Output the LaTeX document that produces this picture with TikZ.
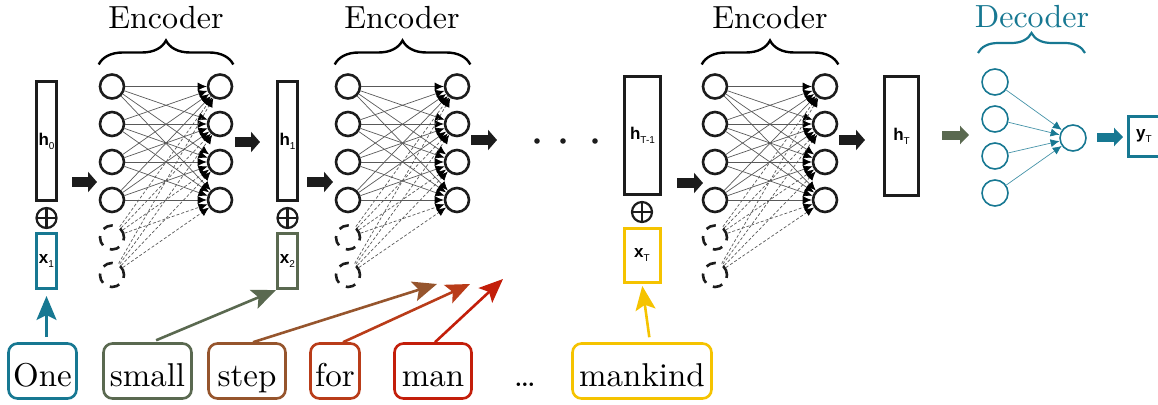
\documentclass[tikz,border=0pt]{standalone}
\usepackage{fontspec}
\newfontfamily\labf{Liberation Sans}
\newfontfamily\wordf{lmroman10-regular.otf}
\usetikzlibrary{arrows.meta,decorations.pathreplacing,calc}
\definecolor{cteal}{HTML}{177892}
\definecolor{cgreen}{HTML}{5A6950}
\definecolor{cbrown}{HTML}{96552D}
\definecolor{crust}{HTML}{B93C19}
\definecolor{cred}{HTML}{C31E0A}
\definecolor{cyell}{HTML}{F5C300}
\definecolor{cblk}{HTML}{1C1C1C}
\newcommand{\boxlab}[2]{{\labf\bfseries\fontsize{17}{17}\selectfont #1}\raisebox{-4pt}{\labf\fontsize{10}{10}\selectfont #2}}
\begin{document}
\begin{tikzpicture}[x=1pt,y=-1pt,
  neu/.style={circle,draw=cblk,line width=2.6pt,minimum size=24pt,inner sep=0pt},
  dneu/.style={neu,dash pattern=on 10pt off 8pt},
  edge/.style={draw=black!65,line width=0.7pt,-{Latex[length=9pt,width=8pt,black]}},
  dedge/.style={edge,dash pattern=on 3pt off 2pt},
  hbox/.style={draw=cblk,line width=3pt,inner sep=0pt,minimum width=20pt,minimum height=119pt},
  xbox/.style={draw,line width=3pt,inner sep=0pt,minimum width=20pt,minimum height=55pt},
  oplus/.style={circle,draw=cblk,line width=2.2pt,minimum size=20pt,inner sep=0pt,
    path picture={\draw[line width=2.2pt] (path picture bounding box.north) -- (path picture bounding box.south)
      (path picture bounding box.west) -- (path picture bounding box.east);}},
  blk/.style={draw=cblk,line width=10pt,-{Triangle[length=9pt,width=20pt,cblk]}},
  wbox/.style={draw,rounded corners=9pt,line width=2.6pt,minimum height=55pt,inner sep=0pt,
    text height=32pt,text depth=2pt,font=\wordf\fontsize{33}{36}\selectfont},
  wtext/.style={inner sep=0pt,text height=32pt,text depth=2pt,font=\wordf\fontsize{33}{36}\selectfont},
  warr/.style={line width=2.6pt,-{Stealth[length=24pt,width=20pt,inset=5pt]}},
  title/.style={font=\wordf\fontsize{32}{34}\selectfont},
  brc/.style={decorate,decoration={brace,amplitude=24pt},line width=2.4pt},
  dneuron/.style={circle,draw=cteal,line width=1.6pt,minimum size=26pt,inner sep=0pt},
  dedgeT/.style={draw=cteal!80,line width=0.7pt,-{Latex[length=9pt,width=8pt,cteal]}}
]
\useasboundingbox (0,0) rectangle (1158,404);

% encoder blocks
\foreach \lx/\rx/\bn/\tx in {112/220/a/166, 348/457/b/402, 715/825/c/770} {
  \foreach \i/\yy in {1/86.5,2/124,3/162,4/200} {
    \node[neu] (\bn L\i) at (\lx,\yy) {};
    \node[neu] (\bn R\i) at (\rx,\yy) {};
  }
  \foreach \i/\yy in {5/237.5,6/275} {
    \node[dneu] (\bn L\i) at (\lx,\yy) {};
  }
  \foreach \i in {1,...,4} {
    \foreach \j in {1,...,4} {
      \draw[edge] (\bn L\i) -- (\bn R\j);
    }
  }
  \foreach \i in {5,6} {
    \foreach \j in {1,...,4} {
      \draw[dedge] (\bn L\i) -- (\bn R\j);
    }
  }
  \node[title] (E\bn) at (\tx,18) {Encoder};
  \draw[brc] ($(\bn L1.west)+(0,-22)$) -- ($(\bn R1.east)+(0,-22)$);
}

% state boxes
\node[hbox] (h0) at (46.5,141) {\boxlab{h}{0}};
\node[oplus] (p0) at (46.5,218) {};
\node[xbox,draw=cteal] (x1) at (46.5,261) {\boxlab{x}{1}};

\node[hbox] (h1) at (287.5,141) {\boxlab{h}{1}};
\node[oplus] (p1) at (287.5,218) {};
\node[xbox,draw=cgreen] (x2) at (287.5,261) {\boxlab{x}{2}};

\node[hbox,minimum width=36pt,minimum height=118pt] (hT1) at (642.5,135.5) {\boxlab{h}{T-1}};
\node[oplus] (pT) at (642,212) {};
\node[xbox,draw=cyell,minimum width=36pt,minimum height=54pt] (xT) at (642,255.5) {\boxlab{x}{T}};

\node[hbox,minimum width=34pt,minimum height=119pt] (hT) at (901.5,136) {\boxlab{h}{T}};

% block arrows
\draw[blk] (72,182) -- (97,182);
\draw[blk] (235,142) -- (260,142);
\draw[blk] (307,182) -- (333,182);
\draw[blk] (471,140) -- (497,140);
\draw[blk] (677,183) -- (703,183);
\draw[blk] (839,140) -- (865,140);

% dots
\fill[cblk] (537,141) circle (2.8pt);
\fill[cblk] (563,141) circle (2.8pt);
\fill[cblk] (595,141) circle (2.8pt);

% decoder
\node[title,text=cteal] (D) at (1032,17) {Decoder};
\draw[brc,cteal,decoration={amplitude=20pt},line width=2.2pt] (978,53) -- (1085,53);
\foreach \i/\yy in {1/82,2/119,3/156,4/193} {
  \node[dneuron] (dL\i) at (995,\yy) {};
}
\node[dneuron] (dR) at (1073,138) {};
\foreach \i in {1,...,4} { \draw[dedgeT] (dL\i) -- (dR); }
\draw[draw=cgreen,line width=9pt,-{Triangle[length=9pt,width=18pt,cgreen]}] (942,135) -- (969,135);
\draw[draw=cteal,line width=9pt,-{Triangle[length=9pt,width=18pt,cteal]}] (1097,137) -- (1123,137);
\node[draw=cteal,line width=3pt,inner sep=0pt,minimum width=32pt,minimum height=40pt] (yT) at (1144,136.5) {\boxlab{y}{T}};

% words
\node[wbox,draw=cteal,minimum width=68pt] (One) at (42.5,371) {One};
\node[wbox,draw=cgreen,minimum width=88pt] (small) at (147.5,371) {small};
\node[wbox,draw=cbrown,minimum width=77pt] (step) at (247,371) {step};
\node[wbox,draw=crust,minimum width=49pt] (for) at (335,371) {for};
\node[wbox,draw=cred,minimum width=77pt] (man) at (433,371) {man};
\node[wtext] (ell) at (525,371) {\dots};
\node[wbox,draw=cyell,minimum width=139pt] (mankind) at (642,371) {mankind};

\coordinate (stepend) at (437,284);
\coordinate (forend) at (470,284);
\coordinate (manend) at (503,279);

\draw[warr,cteal,shorten <=5pt,shorten >=6pt] (One.north -| x1.south) -- (x1.south);
\draw[warr,cgreen,shorten <=5pt] ([xshift=4pt]small.north) -- (x2.south west);
\draw[warr,cbrown] ([xshift=6pt]step.north) -- (stepend);
\draw[warr,crust] ([xshift=8pt]for.north) -- (forend);
\draw[warr,cred] ([xshift=2pt]man.north) -- (manend);
\draw[warr,cyell,shorten <=5pt,shorten >=2pt] ([xshift=8pt]mankind.north) -- (xT.south);
\end{tikzpicture}
\end{document}
